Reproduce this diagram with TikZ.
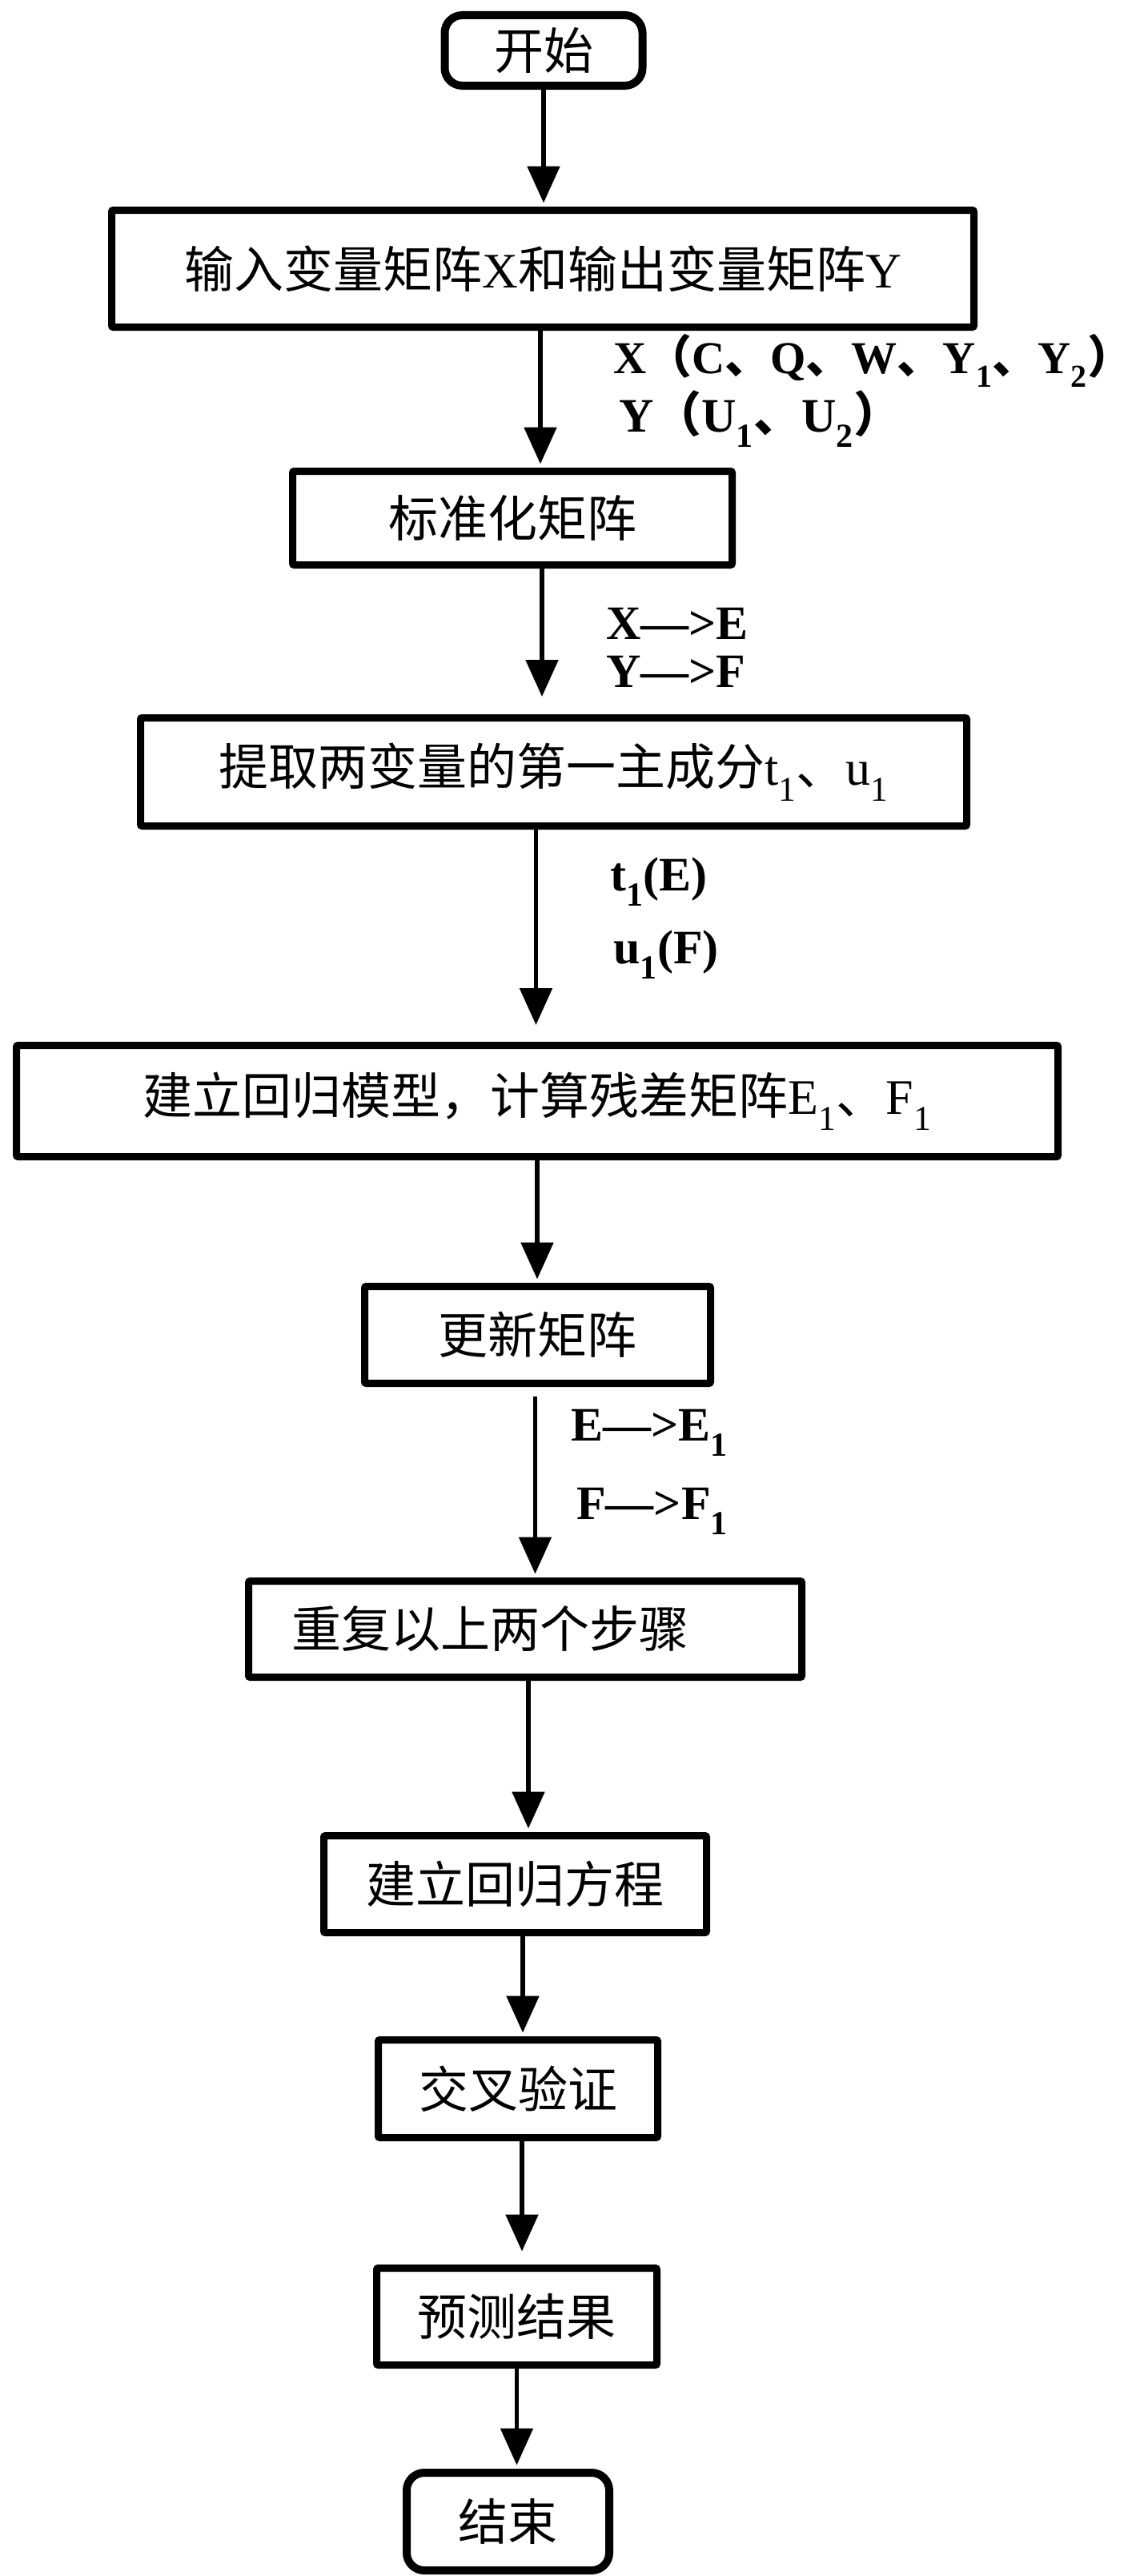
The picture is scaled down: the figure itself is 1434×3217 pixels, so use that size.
\documentclass[tikz,border=0pt]{standalone}
\usepackage{fontspec}
\setmainfont{Liberation Serif}
\newfontfamily\cjk{Noto Sans CJK SC}
\usetikzlibrary{arrows.meta}
\tikzset{
 box/.style={draw, line width=9pt, inner sep=0pt, font=\fontsize{62pt}{70pt}\selectfont, rounded corners=2pt},
 term/.style={box, rounded corners=22pt, line width=10pt},
 arr/.style={line width=5.5pt, -{Triangle[width=40pt,length=46pt]}, shorten >=4.5pt},
 lab/.style={anchor=base west, inner sep=0pt, font=\fontsize{60pt}{66pt}\selectfont\bfseries},
}
\newcommand{\zh}[1]{{\cjk #1}}
\newcommand{\zhclose}{\makebox[0.5em][l]{\cjk ）}}
\begin{document}
\begin{tikzpicture}[x=1pt,y=-1pt]
\useasboundingbox (0,0) rectangle (1434,3217);
\fill[white] (0,0) rectangle (1434,3217);
\node[term, minimum width=247, minimum height=88] (start) at (679,63) {\zh{开始}};
\node[box, minimum width=1077, minimum height=146] (input) at (678,335.5) {\zh{输入变量矩阵}X\zh{和输出变量矩阵}Y};
\node[box, minimum width=549, minimum height=117] (std) at (640,647) {\zh{标准化矩阵}};
\node[box, minimum width=1032, minimum height=135] (pc) at (691.5,964) {\zh{提取两变量的第一主成分}t\textsubscript{1}\zh{、}u\textsubscript{1}};
\node[box, minimum width=1301, minimum height=139] (model) at (671,1375) {\zh{建立回归模型，计算残差矩阵}E\textsubscript{1}\zh{、}F\textsubscript{1}};
\node[box, minimum width=432, minimum height=121] (upd) at (671.5,1667) {\zh{更新矩阵}};
\node[box, minimum height=120, text width=584, inner xsep=53.5, align=left] (rep) at (656,2034.5) {\zh{重复以上两个步骤}};
\node[box, minimum width=478, minimum height=121] (eq) at (643.5,2353) {\zh{建立回归方程}};
\node[box, minimum width=349, minimum height=122] (cv) at (647,2608.5) {\zh{交叉验证}};
\node[box, minimum width=350, minimum height=121] (pred) at (645.5,2893) {\zh{预测结果}};
\node[term, minimum width=253, minimum height=122] (end) at (634.5,3149) {\zh{结束}};

\draw[arr] (start.south) -- (start.south |- input.north);
\draw[arr] ([xshift=-3]input.south) -- ([xshift=-3]input.south |- std.north);
\draw[arr, shorten >=22pt] ([xshift=37]std.south) -- ([xshift=37]std.south |- pc.north);
\draw[arr, shorten >=21pt] ([xshift=-22]pc.south) -- ([xshift=-22]pc.south |- model.north);
\draw[arr] (model.south) -- (model.south |- upd.north);
\draw[arr, shorten <=12pt] ([xshift=-3]upd.south) -- ([xshift=-3]upd.south |- rep.north);
\draw[arr] ([xshift=4]rep.south) -- ([xshift=4]rep.south |- eq.north);
\draw[arr] ([xshift=9.5]eq.south) -- ([xshift=9.5]eq.south |- cv.north);
\draw[arr, shorten >=16.5pt] ([xshift=5]cv.south) -- ([xshift=5]cv.south |- pred.north);
\draw[arr] (pred.south) -- (pred.south |- end.north);

\node[lab, font=\fontsize{57pt}{64pt}\selectfont\bfseries] (l1) at (766,466) {X\zh{（}C\zh{、}Q\zh{、}W\zh{、}Y\textsubscript{1}\zh{、}Y\textsubscript{2}\zhclose};
\node[lab] (l2) at (773,539) {Y\zh{（}U\textsubscript{1}\zh{、}U\textsubscript{2}\zhclose};
\node[lab] (l3) at (757,798) {X—>E};
\node[lab] (l4) at (757,858) {Y—>F};
\node[lab] (l5) at (762,1112) {t\textsubscript{1}(E)};
\node[lab] (l6) at (766,1203) {u\textsubscript{1}(F)};
\node[lab] (l7) at (713,1799) {E—>E\textsubscript{1}};
\node[lab] (l8) at (720,1897) {F—>F\textsubscript{1}};
\end{tikzpicture}
\end{document}
